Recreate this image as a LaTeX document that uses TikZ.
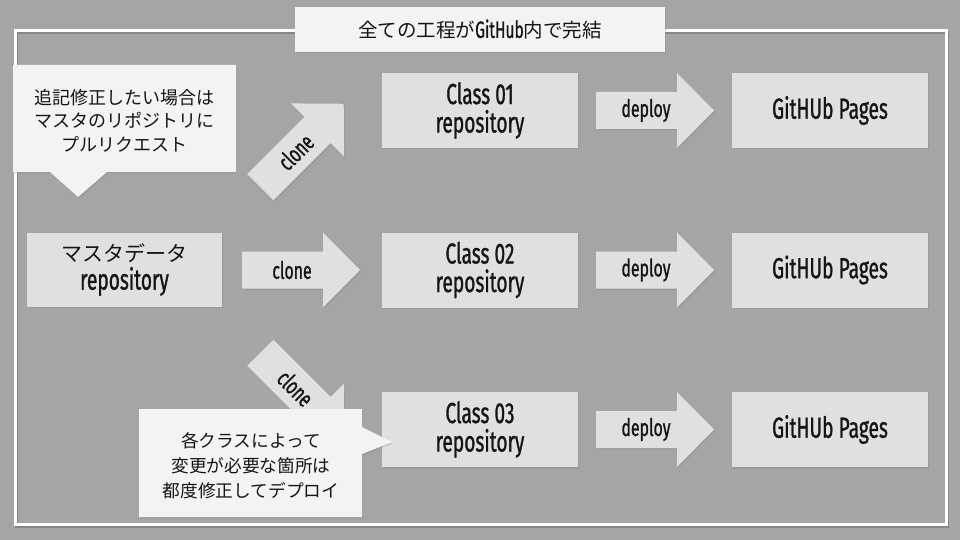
\documentclass[tikz,border=0pt]{standalone}
\usepackage{fontspec}
\setmainfont{Fira Sans}[FakeStretch=0.66, FakeBold=1.0]
\newfontfamily\jp{Noto Sans CJK JP}
\usetikzlibrary{shadows}
\definecolor{bg}{HTML}{A5A5A5}
\definecolor{boxfill}{HTML}{E0E0E0}
\definecolor{callfill}{HTML}{F3F3F3}
\definecolor{ink}{HTML}{151515}
\tikzset{
  shad/.style={drop shadow={shadow xshift=1pt,shadow yshift=-1.5pt,opacity=0.28}},
  repobox/.style={shad, fill=boxfill, draw=none, minimum width=196pt, minimum height=75pt,
    inner sep=0pt, align=center, text=ink, font=\fontsize{29}{28.5}\selectfont},
  arrowlabel/.style={text=ink, inner sep=0pt, font=\fontsize{24}{24}\selectfont},
  calltext/.style={text=ink, inner sep=0pt, align=center},
  arrowshape/.style={fill=boxfill, shad},
  blockarrow/.pic={\path[arrowshape] (-59,-18.5) -- (22,-18.5) -- (22,-37.5) -- (59,0)
      -- (22,37.5) -- (22,18.5) -- (-59,18.5) -- cycle;}
}
\begin{document}
\begin{tikzpicture}[x=1pt,y=-1pt]
\useasboundingbox (0,0) rectangle (960,540);
\fill[bg] (0,0) rectangle (960,540);
% outer frame
\draw[black, opacity=0.18, line width=3pt] (16,32.5) rectangle (947.5,526);
\draw[white, line width=3pt] (15,31) rectangle (946.5,524.5);
% title
\node[shad, fill=callfill, minimum width=370pt, minimum height=45pt, inner sep=0pt, text=ink]
  (title) at (480,29.5) {\jp\fontsize{19.5}{19}\selectfont 全ての工程が{\rmfamily\fontsize{23.5}{19}\selectfont GitHub}内で完結};
% repository boxes
\node[repobox, minimum width=195pt, minimum height=74pt] (master) at (124.5,269.5)
  {{\jp\fontsize{21}{27}\selectfont マスタデータ}\\repository};
\node[repobox] (c1) at (480,110.5) {Class 01\\repository};
\node[repobox] (c2) at (480,270) {Class 02\\repository};
\node[repobox] (c3) at (480,429.5) {Class 03\\repository};
\node[repobox] (g1) at (830,110.5) {GitHUb Pages};
\node[repobox] (g2) at (830,270) {GitHUb Pages};
\node[repobox] (g3) at (830,429.5) {GitHUb Pages};
% block arrows
\pic at (655,110.5) {blockarrow};
\pic at (655,270) {blockarrow};
\pic at (655,429.5) {blockarrow};
\pic at (301,270) {blockarrow};
\pic[rotate=45] at (302,145.5) {blockarrow};
\pic[rotate=-45] at (302,394.5) {blockarrow};
\node[arrowlabel] (d1) at (646,110.5) {deploy};
\node[arrowlabel] (d2) at (646,270) {deploy};
\node[arrowlabel] (d3) at (646,429.5) {deploy};
\node[arrowlabel] (k2) at (292,270) {clone};
\node[arrowlabel, rotate=45] (k1) at (295.6,151.9) {clone};
\node[arrowlabel, rotate=-45] (k3) at (295.6,388.1) {clone};
% callout 1
\path[fill=callfill, shad] (13,65) -- (236,65) -- (236,172) -- (107,172) -- (78,197)
  -- (50,172) -- (13,172) -- cycle;
\node[calltext, font=\jp\fontsize{18}{23.5}\selectfont] (note1) at (124.5,120.5)
  {追記修正したい場合は\\マスタのリポジトリに\\プルリクエスト};
% callout 2
\path[fill=callfill, shad] (139,409) -- (362,409) -- (362,427) -- (392,442) -- (362,454)
  -- (362,517) -- (139,517) -- cycle;
\node[calltext, font=\jp\fontsize{17.7}{25}\selectfont] (note2) at (251,465.5)
  {各クラスによって\\変更が必要な箇所は\\都度修正してデプロイ};
\end{tikzpicture}
\end{document}
